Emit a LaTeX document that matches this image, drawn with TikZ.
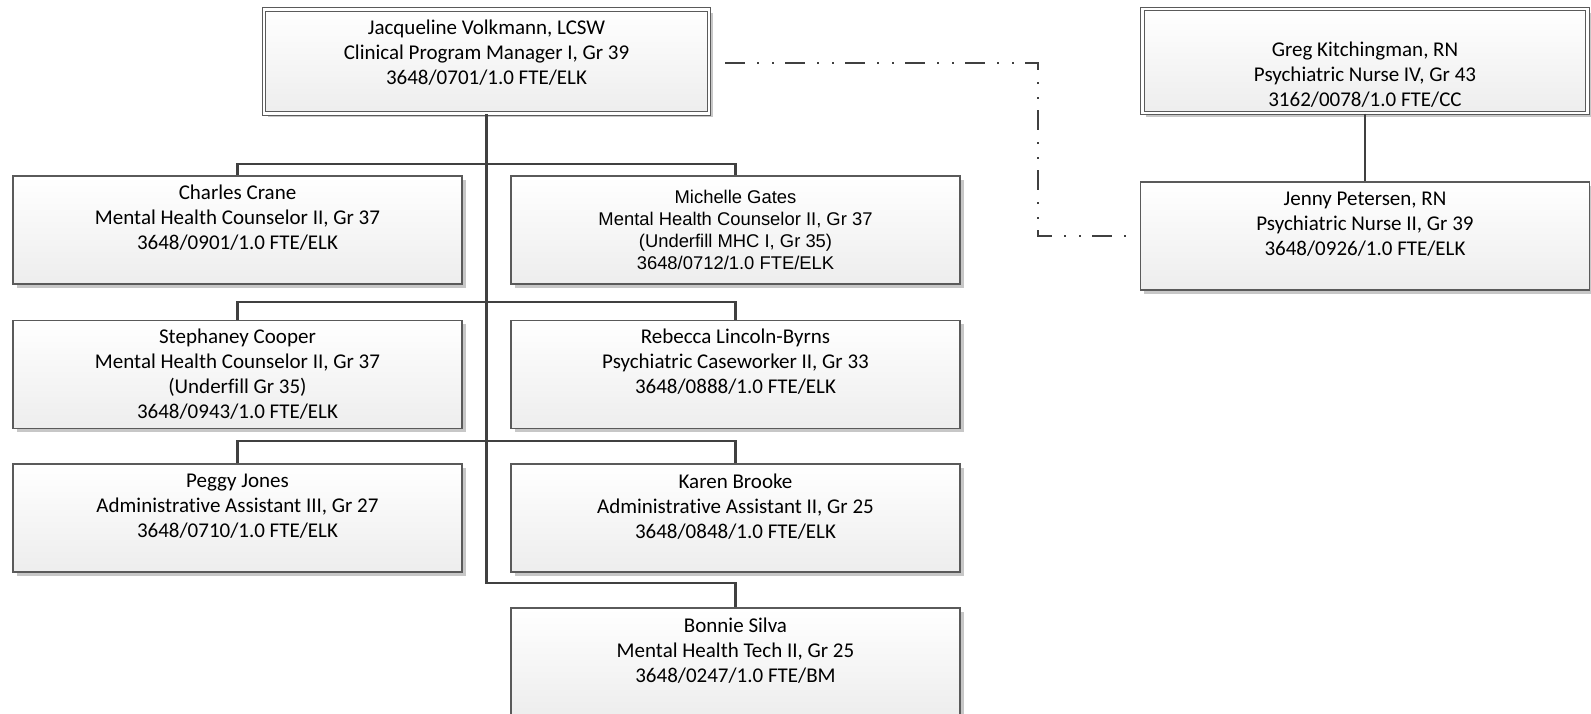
\documentclass[tikz,border=0pt]{standalone}
\usepackage{fontspec}
\setmainfont{Carlito}[Ligatures=NoCommon]
\newfontfamily\arialfont{Liberation Sans}
\usetikzlibrary{positioning,shadows}
\definecolor{treeline}{HTML}{404040}
\definecolor{boxline}{HTML}{5A5A5A}

\begin{document}
\begin{tikzpicture}
   [
   x=0.5pt, y=-0.5pt,
   staffbox/.style={rectangle, draw=boxline, line width=0.6pt, top color=white, bottom color=black!7, inner sep=0pt, minimum width=224.5pt, minimum height=54pt, drop shadow={shadow xshift=1.8pt, shadow yshift=-1.8pt, fill=black!22, opacity=1}},
   bossbox/.style={staffbox, double=white, double distance=1.2pt, minimum width=222.5pt, minimum height=52pt},
   stafftext/.style={align=center, inner sep=0pt, font=\fontsize{10.5}{12.5}\selectfont},
   arialtext/.style={align=center, inner sep=0pt, font=\arialfont\fontsize{9.2}{11}\selectfont},
   orgline/.style={draw=treeline, line width=1.4pt},
   dotline/.style={draw=treeline, line width=1pt, dash pattern=on 10pt off 6pt on 1pt off 6.5pt on 1pt off 5.5pt},
   ]
 \useasboundingbox (0,0) rectangle (1591,713);
 % boxes
 \node at (486.5,61.5) [bossbox]  (jv) {};
 \node at (237.5,230)  [staffbox] (cc) {};
 \node at (735.5,230)  [staffbox] (mg) {};
 \node at (237.5,374.5) [staffbox] (sc) {};
 \node at (735.5,374.5) [staffbox] (rl) {};
 \node at (237.5,518) [staffbox] (pj) {};
 \node at (735.5,518) [staffbox] (kb) {};
 \node at (735.5,662) [staffbox] (bs) {};
 \node at (1365,61)   [bossbox]  (gk) {};
 \node at (1365,236)  [staffbox] (jp) {};
 % texts
 \node [stafftext, below=5.5pt of jv.north] (jvt) {Jacqueline Volkmann, LCSW\\Clinical Program Manager I, Gr 39\\3648/0701/1.0 FTE/ELK};
 \node [stafftext, below=4.5pt of cc.north] (cct) {Charles Crane\\Mental Health Counselor II, Gr 37\\3648/0901/1.0 FTE/ELK};
 \node [arialtext, below=7pt of mg.north]   (mgt) {Michelle Gates\\Mental Health Counselor II, Gr 37\\(Underfill MHC I, Gr 35)\\3648/0712/1.0 FTE/ELK};
 \node [stafftext, below=4.5pt of sc.north] (sct) {Stephaney Cooper\\Mental Health Counselor II, Gr 37\\(Underfill Gr 35)\\3648/0943/1.0 FTE/ELK};
 \node [stafftext, below=4.5pt of rl.north] (rlt) {Rebecca Lincoln-Byrns\\Psychiatric Caseworker II, Gr 33\\3648/0888/1.0 FTE/ELK};
 \node [stafftext, below=5pt of pj.north]   (pjt) {Peggy Jones\\Administrative Assistant III, Gr 27\\3648/0710/1.0 FTE/ELK};
 \node [stafftext, below=5pt of kb.north]   (kbt) {Karen Brooke\\Administrative Assistant II, Gr 25\\3648/0848/1.0 FTE/ELK};
 \node [stafftext, below=5pt of bs.north]   (bst) {Bonnie Silva\\Mental Health Tech II, Gr 25\\3648/0247/1.0 FTE/BM};
 \node [stafftext, below=16.5pt of gk.north] (gkt) {Greg Kitchingman, RN\\Psychiatric Nurse IV, Gr 43\\3162/0078/1.0 FTE/CC};
 \node [stafftext, below=5pt of jp.north]   (jpt) {Jenny Petersen, RN\\Psychiatric Nurse II, Gr 39\\3648/0926/1.0 FTE/ELK};
 % tree
 \coordinate (bus1) at (486.5,164);
 \coordinate (bus2) at (486.5,302);
 \coordinate (bus3) at (486.5,441);
 \coordinate (bus4) at (486.5,583);
 \draw[orgline] (jv.south) -- (bus4) -| (bs.north);
 \draw[orgline] (cc.north) |- (bus1) -| (mg.north);
 \draw[orgline] (sc.north) |- (bus2) -| (rl.north);
 \draw[orgline] (pj.north) |- (bus3) -| (kb.north);
 \draw[orgline] (gk.south) -- (jp.north);
 % dotted line
 \coordinate (dl1) at (725,63);
 \coordinate (dl2) at (1038,63);
 \coordinate (dl3) at (1134,236);
 \draw[dotline] (dl1) -- (dl2) |- (dl3);
\end{tikzpicture}
\end{document}
